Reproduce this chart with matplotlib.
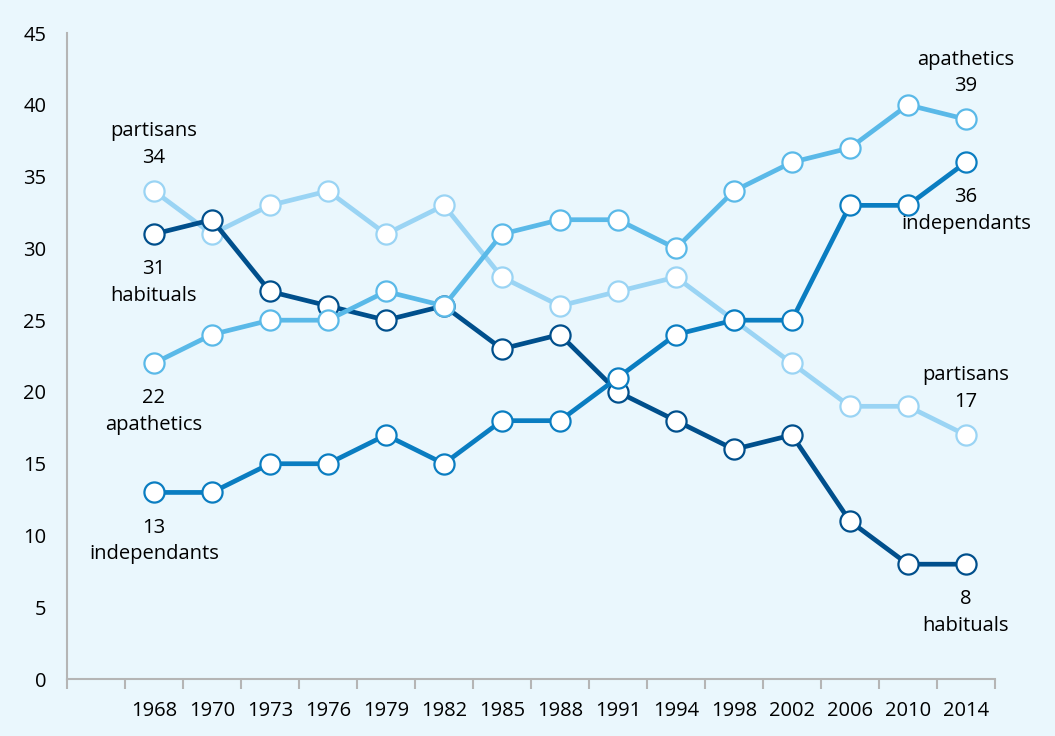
import matplotlib.pyplot as plt

plt.rcParams["font.family"] = ["Open Sans", "DejaVu Sans"]

# data
years = ['1968', '1970', '1973', '1976', '1979', '1982', '1985', '1988',
         '1991', '1994', '1998', '2002', '2006', '2010', '2014']
partisans = [34, 31, 33, 34, 31, 33, 28, 26, 27, 28, 25, 22, 19, 19, 17]
habituals = [31, 32, 27, 26, 25, 26, 23, 24, 20, 18, 16, 17, 11, 8, 8]
apathetics = [22, 24, 25, 25, 27, 26, 31, 32, 32, 30, 34, 36, 37, 40, 39]
independants = [13, 13, 15, 15, 17, 15, 18, 18, 21, 24, 25, 25, 33, 33, 36]

bg = '#eaf7fd'
fig = plt.figure(figsize=(10.55, 7.36), dpi=100, facecolor=bg)
ax = fig.add_axes([0.0635, 0.0774, 0.8795, 0.8776], facecolor=bg)

x = list(range(1, len(years) + 1))
series = [
    (partisans, '#9ad4f4', 2),
    (habituals, '#004f8c', 3),
    (apathetics, '#5ab9e8', 4),
    (independants, '#0a7dc1', 5),
]
for vals, col, z in series:
    ax.plot(x, vals, color=col, lw=3.4, marker='o', ms=14.5, mfc='white',
            mec=col, mew=1.6, zorder=z, solid_joinstyle='round')

ax.set_xlim(-0.5, 15.5)
ax.set_ylim(0, 45)
ax.set_xticks([i - 0.5 for i in range(0, 17)])
ax.set_xticks(x, minor=True)
ax.set_xticklabels([])
ax.set_xticklabels(years, minor=True)
ax.tick_params(axis='x', which='major', length=7, width=1.5, color='#b5b5b5')
ax.tick_params(axis='x', which='minor', length=0, pad=16, labelsize=14.5)
ax.set_yticks(range(0, 46, 5))
ax.tick_params(axis='y', length=0, pad=15, labelsize=14.5)

for s in ['top', 'right']:
    ax.spines[s].set_visible(False)
for s in ['left', 'bottom']:
    ax.spines[s].set_color('#b5b5b5')
    ax.spines[s].set_linewidth(1.5)

fs = 14.5
ls = 1.45
up, dn = 1.6, 1.75
first, last = x[0], x[-1]
ax.text(first, partisans[0] + up, 'partisans\n' + str(partisans[0]), ha='center', va='bottom', fontsize=fs, linespacing=ls)
ax.text(first, habituals[0] - dn, str(habituals[0]) + '\nhabituals', ha='center', va='top', fontsize=fs, linespacing=ls)
ax.text(first, apathetics[0] - dn, str(apathetics[0]) + '\napathetics', ha='center', va='top', fontsize=fs, linespacing=ls)
ax.text(first, independants[0] - dn, str(independants[0]) + '\nindependants', ha='center', va='top', fontsize=fs, linespacing=ls)
ax.text(last, apathetics[-1] + up, 'apathetics\n' + str(apathetics[-1]), ha='center', va='bottom', fontsize=fs, linespacing=ls)
ax.text(last, independants[-1] - dn, str(independants[-1]) + '\nindependants', ha='center', va='top', fontsize=fs, linespacing=ls)
ax.text(last, partisans[-1] + up, 'partisans\n' + str(partisans[-1]), ha='center', va='bottom', fontsize=fs, linespacing=ls)
ax.text(last, habituals[-1] - dn, str(habituals[-1]) + '\nhabituals', ha='center', va='top', fontsize=fs, linespacing=ls)

fig.savefig('out.png', dpi=100, facecolor=bg)
